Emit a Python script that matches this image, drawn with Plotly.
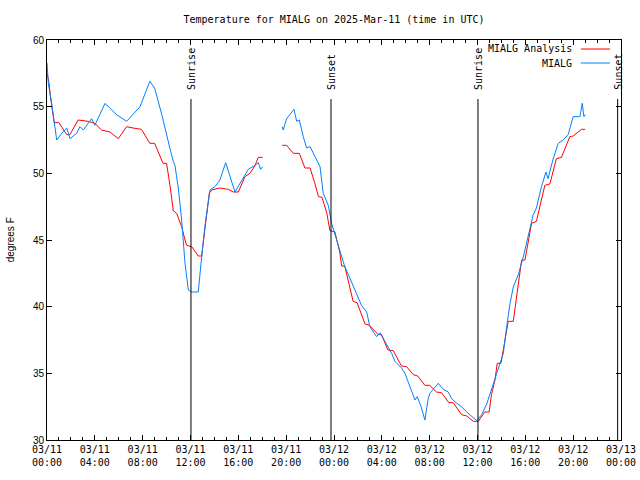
import plotly.graph_objects as go
import pandas as pd

# Hours since 2025-03-11 00:00 UTC
analysis_hours_1 = [0.0, 0.15, 0.3, 0.45, 0.6, 1.0, 1.65, 1.92, 2.6, 3.45, 4.0, 4.57, 5.27, 5.96, 6.66, 7.2, 7.9, 8.6, 9.0,
                    9.7, 10.0, 10.3, 10.56, 10.84, 11.26, 11.54, 11.68, 12.1, 12.65, 12.93, 13.2, 13.57, 13.77, 14.46,
                    15.16, 15.58, 16.0, 16.55, 16.97, 17.4, 17.67, 18.04]
analysis_temp_1 = [57.5, 56.9, 55.7, 54.6, 53.8, 53.8, 52.9, 52.9, 54.0, 53.9, 53.75, 53.25, 53.1, 52.6, 53.5, 53.4, 53.3,
                   52.25, 52.25, 50.75, 50.75, 49.0, 47.2, 47.0, 46.0, 45.0, 44.6, 44.5, 43.8, 43.8, 45.75, 48.5, 48.75,
                   48.9, 48.8, 48.6, 48.6, 49.75, 50.0, 50.6, 51.2, 51.2]
analysis_hours_2 = [19.67, 20.04, 20.6, 21.1, 21.57, 22.0, 22.4, 22.7, 23.0, 23.4, 23.66, 24.08, 24.5, 24.64, 24.9, 25.6,
                    25.93, 26.6, 26.95, 27.7, 27.98, 28.5, 28.95, 29.65, 30.07, 30.63, 31.0, 31.6, 32.0, 32.57, 32.99,
                    33.6, 33.97, 34.67, 35.1, 35.65, 36.07, 36.6, 36.97, 37.17, 37.46, 37.65, 37.96, 38.3, 38.57, 38.99,
                    39.27, 39.55, 39.69, 39.97, 40.52, 40.93, 41.63, 42.05, 42.6, 43.02, 43.72, 44.0, 44.7, 45.0]
analysis_temp_2 = [52.1, 52.1, 51.5, 51.5, 50.4, 50.4, 49.25, 48.25, 48.2, 47.0, 45.7, 45.6, 44.0, 43.05, 43.05, 40.4,
                   40.3, 38.7, 38.6, 37.9, 37.9, 36.75, 36.7, 35.55, 35.5, 34.9, 34.8, 34.1, 34.1, 33.6, 33.55, 32.8,
                   32.8, 31.9, 31.8, 31.4, 31.4, 32.1, 32.1, 33.4, 34.5, 35.75, 35.75, 37.5, 38.9, 38.9, 40.75, 42.25,
                   43.5, 43.5, 46.25, 46.4, 49.1, 49.2, 51.1, 51.2, 52.75, 52.8, 53.3, 53.3]

obs_hours_1 = [0.0, 0.11, 0.39, 0.67, 0.81, 1.23, 1.65, 1.92, 2.48, 2.76, 3.04, 3.73, 4.0, 4.85, 5.82, 6.66, 7.78, 8.6,
               9.0, 9.6, 10.1, 10.3, 10.56, 10.7, 10.98, 11.26, 11.54, 11.82, 12.1, 12.65, 12.88, 13.2, 13.63, 14.05,
               14.46, 14.94, 15.72, 16.28, 16.83, 17.4, 17.67, 17.87, 18.04]
obs_temp_1 = [58.3, 56.75, 55.25, 53.5, 52.5, 53.0, 53.4, 52.6, 53.0, 53.5, 53.25, 54.1, 53.6, 55.25, 54.4, 53.9, 55.0,
              56.9, 56.4, 54.4, 52.4, 51.8, 50.9, 50.6, 48.9, 46.5, 43.25, 41.25, 41.1, 41.1, 43.25, 46.0, 48.75, 49.0,
              49.5, 50.8, 48.6, 49.5, 50.3, 50.6, 50.8, 50.3, 50.5]
obs_hours_2 = [19.67, 19.75, 20.04, 20.65, 20.88, 21.1, 21.43, 21.71, 22.0, 22.55, 22.83, 23.1, 23.52, 23.8, 24.22,
               24.78, 24.9, 25.2, 25.6, 25.9, 26.3, 26.6, 26.73, 27.0, 27.56, 27.84, 28.26, 28.82, 29.1, 29.65, 29.93,
               30.35, 30.77, 30.96, 31.25, 31.6, 31.88, 32.02, 32.72, 33.14, 33.56, 33.84, 34.26, 34.67, 35.1, 35.93,
               36.35, 36.77, 37.32, 37.74, 38.16, 38.44, 38.72, 39.0, 39.41, 39.82, 40.24, 40.66, 40.93, 41.35, 41.72,
               41.9, 42.3, 42.75, 43.16, 43.58, 44.0, 44.57, 44.76, 44.9, 45.0]
obs_temp_2 = [53.5, 53.25, 54.1, 54.8, 53.9, 54.0, 52.75, 51.9, 52.0, 51.0, 50.5, 48.5, 47.6, 46.25, 45.0, 43.5, 43.0,
              42.4, 41.6, 40.9, 40.1, 39.75, 39.6, 38.5, 37.75, 38.05, 37.4, 36.5, 35.9, 35.4, 35.0, 34.0, 33.0, 33.25,
              32.6, 31.5, 33.1, 33.5, 34.25, 33.8, 33.6, 33.1, 32.75, 32.5, 32.1, 31.45, 31.9, 32.7, 34.25, 35.4, 36.5,
              38.5, 40.25, 41.5, 42.4, 43.7, 45.25, 46.9, 47.4, 49.0, 50.1, 49.6, 51.0, 52.25, 52.5, 52.9, 54.25, 54.25,
              55.25, 54.25, 54.4]

sun_hours = [12.04, 23.75, 36.04, 47.72]
sun_labels = ["Sunrise", "Sunset", "Sunrise", "Sunset"]

series_names = ["MIALG Analysis", "MIALG"]
series_colors = ["#ff0000", "#0080ff"]

base = pd.Timestamp("2025-03-11 00:00")
end = base + pd.Timedelta(hours=48)


def to_time(hours):
    return [base + pd.Timedelta(hours=h) for h in hours]


def join(h1, v1, h2, v2):
    return to_time(h1) + [None] + to_time(h2), list(v1) + [None] + list(v2)


ax, ay = join(analysis_hours_1, analysis_temp_1, analysis_hours_2, analysis_temp_2)
ox, oy = join(obs_hours_1, obs_temp_1, obs_hours_2, obs_temp_2)

MONO = "DejaVu Sans Mono"
SANS = "Liberation Sans"

fig = go.Figure()
fig.add_trace(go.Scatter(x=ax, y=ay, mode="lines", name=series_names[0],
                         line=dict(color=series_colors[0], width=1), connectgaps=False))
fig.add_trace(go.Scatter(x=ox, y=oy, mode="lines", name=series_names[1],
                         line=dict(color=series_colors[1], width=1), connectgaps=False))
# helper trace so the hourly (minor) tick axis is drawn
fig.add_trace(go.Scatter(x=[base, end], y=[None, None], xaxis="x2", mode="lines",
                         showlegend=False, hoverinfo="skip"))

for h, lab in zip(sun_hours, sun_labels):
    t = base + pd.Timedelta(hours=h)
    fig.add_shape(type="line", xref="x", yref="paper", x0=t, x1=t, y0=0, y1=0.8525,
                  line=dict(color="black", width=1))
    fig.add_annotation(x=t, xref="x", y=0.87, yref="paper", text=lab, textangle=-90,
                       showarrow=False, xanchor="center", yanchor="bottom",
                       font=dict(family=MONO, size=10, color="black"))

# legend (gnuplot style: text right, sample line to the right)
leg_y = [0.9775, 0.9425]
for name, col, yy in zip(series_names, series_colors, leg_y):
    fig.add_annotation(x=0.918, xref="paper", y=yy, yref="paper", text=name, showarrow=False,
                       xanchor="right", yanchor="middle", font=dict(family=MONO, size=10, color="black"))
    fig.add_shape(type="line", xref="paper", yref="paper", x0=0.930, x1=0.981, y0=yy, y1=yy,
                  line=dict(color=col, width=1))

fig.add_annotation(x=-0.064, xref="paper", y=0.5, yref="paper", text="degrees F", textangle=-90,
                   showarrow=False, xanchor="center", yanchor="middle",
                   font=dict(family=SANS, size=10, color="black"))

fig.update_layout(
    width=640, height=480,
    margin=dict(l=47, r=19, t=40, b=40),
    paper_bgcolor="white", plot_bgcolor="white",
    showlegend=False,
    title=dict(text="Temperature for MIALG on 2025-Mar-11 (time in UTC)", x=0.5, xref="paper",
               xanchor="center", y=1 - 19 / 480, yanchor="middle",
               font=dict(family=MONO, size=10, color="black")),
    xaxis=dict(
        type="date",
        range=[base, end],
        dtick=4 * 3600 * 1000, tick0=base,
        tickformat="%m/%d<br>%H:%M",
        ticks="inside", ticklen=5, tickcolor="black",
        showline=True, linecolor="black", linewidth=1, mirror="ticks",
        showgrid=False, zeroline=False, automargin=False,
        tickfont=dict(family=MONO, size=10, color="black"),
    ),
    xaxis2=dict(
        type="date", overlaying="x", anchor="y", side="bottom",
        range=[base, end], dtick=3600 * 1000, tick0=base,
        ticks="inside", ticklen=3, tickcolor="black", showticklabels=False,
        showline=False, mirror="ticks", showgrid=False, zeroline=False, automargin=False,
    ),
    yaxis=dict(
        range=[30, 60], dtick=5, tick0=30,
        ticks="inside", ticklen=5, tickcolor="black",
        showline=True, linecolor="black", linewidth=1, mirror="ticks",
        showgrid=False, zeroline=False, automargin=False,
        tickfont=dict(family=SANS, size=10, color="black"),
    ),
)

fig.write_html("out.html", config={"displayModeBar": False},
               post_script="document.body.style.margin='0';document.body.style.padding='0';")
